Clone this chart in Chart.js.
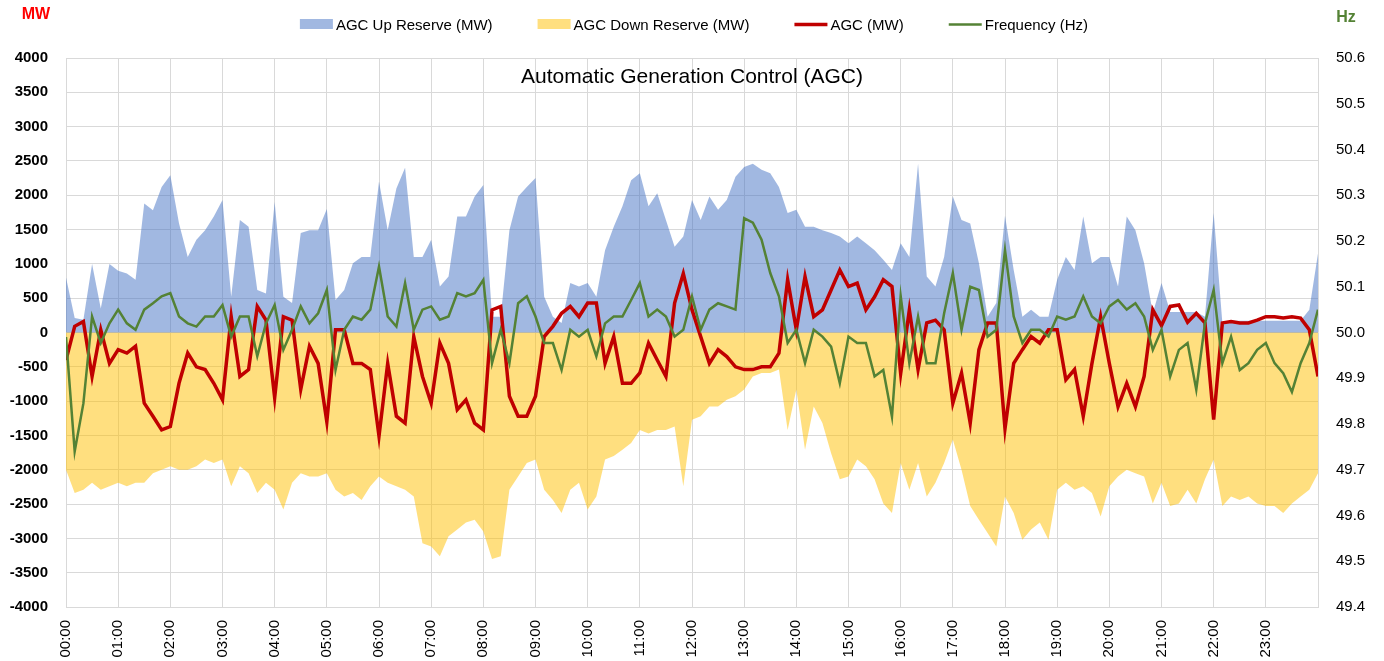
<!DOCTYPE html>
<html>
<head>
<meta charset="utf-8">
<script src="https://cdn.jsdelivr.net/npm/chart.js@4"></script>
<style>
  html, body { margin: 0; padding: 0; background: #fff; }
  #wrap { width: 1384px; height: 661px; position: relative; }
</style>
</head>
<body>
<div id="wrap"><canvas id="agcChart"></canvas></div>
<script>
// 10-minute samples, 00:00 .. 24:00 (one row per hour)
const upReserve = [
  800, 210, 185, 1000, 350, 1000,
  900, 860, 770, 1880, 1780, 2120,
  2290, 1590, 1100, 1350, 1490, 1690,
  1930, 520, 1640, 1540, 620, 570,
  1900, 520, 430, 1450, 1490, 1490,
  1800, 475, 620, 1010, 1100, 1100,
  2200, 1490, 2100, 2400, 1100, 1100,
  1350, 670, 815, 1690, 1690, 1980,
  2150, 230, 230, 1490, 1980, 2120,
  2250, 520, 230, 140, 720, 670,
  720, 520, 1200, 1540, 1840, 2220,
  2320, 1840, 2030, 1640, 1250, 1400,
  1930, 1640, 1980, 1790, 1930, 2270,
  2410, 2460, 2370, 2320, 2120, 1740,
  1790, 1540, 1540, 1490, 1450, 1400,
  1300, 1400, 1300, 1200, 1060, 910,
  1300, 1100, 2460, 815, 670, 1100,
  1980, 1640, 1590, 1010, 230, 430,
  1700, 910, 230, 330, 230, 230,
  770, 1100, 910, 1690, 1010, 1100,
  1100, 670, 1690, 1490, 1010, 280,
  720, 300, 300, 300, 300, 230,
  1740, 140, 170, 170, 170, 170,
  170, 170, 170, 170, 170, 330,
  1150
];

const downReserve = [
  -2000, -2340, -2290, -2190, -2290, -2240,
  -2190, -2240, -2190, -2190, -2050, -2000,
  -1950, -2000, -2000, -1950, -1850, -1900,
  -1850, -2240, -1950, -2050, -2340, -2190,
  -2290, -2580, -2190, -2050, -2100, -2100,
  -2050, -2290, -2390, -2340, -2440, -2240,
  -2100, -2190, -2240, -2290, -2390, -3070,
  -3120, -3260, -2970, -2870, -2770, -2730,
  -2900, -3300, -3260, -2290, -2100, -1900,
  -1850, -2290, -2440, -2630, -2290, -2190,
  -2580, -2390, -1850, -1800, -1710, -1610,
  -1420, -1470, -1420, -1420, -1370, -2240,
  -1270, -1220, -1080, -1080, -980, -930,
  -830, -640, -590, -590, -540, -1420,
  -830, -1710, -1080, -1320, -1760, -2140,
  -2100, -1850, -1950, -2140, -2490, -2630,
  -1900, -2290, -1900, -2390, -2190, -1900,
  -1560, -2000, -2530, -2730, -2920, -3120,
  -2390, -2630, -3020, -2870, -2770, -3020,
  -2290, -2190, -2290, -2240, -2340, -2680,
  -2240, -2100, -2000, -2050, -2100, -2490,
  -2190, -2530, -2490, -2290, -2490, -2140,
  -1850, -2530, -2390, -2440, -2390, -2490,
  -2530, -2530, -2630, -2490, -2390, -2290,
  -2050
];

const agc = [
  -400, 90, 160, -640, 40, -450,
  -250, -300, -200, -1030, -1220, -1420,
  -1370, -740, -300, -500, -540, -740,
  -980, 230, -640, -540, 380, 180,
  -950, 230, 180, -830, -200, -450,
  -1300, 40, 40, -450, -450, -540,
  -1510, -450, -1220, -1320, -60, -640,
  -1030, -155, -450, -1125, -980, -1320,
  -1420, 330, 380, -930, -1220, -1220,
  -930, -60, 90, 280, 380, 230,
  430, 430, -450, -60, -740, -740,
  -590, -155, -400, -640, 430, 860,
  330, -60, -450, -250, -350, -500,
  -540, -540, -500, -500, -300, 770,
  40, 815, 230, 330, 620, 910,
  670, 720, 330, 520, 770, 670,
  -600, 330, -540, 140, 180, 40,
  -1030, -590, -1320, -250, 140, 140,
  -1400, -450, -250, -60, -155, 40,
  40, -690, -540, -1220, -450, 230,
  -450, -1080, -740, -1080, -640, 330,
  100, 380, 400, 150, 280, 140,
  -1270, 140, 160, 140, 140, 180,
  230, 230, 210, 230, 210, 40,
  -640
];

const frequency = [
  49.99, 49.74, 49.845, 50.035, 49.977, 50.02,
  50.05, 50.02, 50.006, 50.05, 50.064, 50.079,
  50.086, 50.035, 50.02, 50.013, 50.035, 50.035,
  50.06, 49.991, 50.035, 50.035, 49.948, 50.02,
  50.06, 49.962, 50.006, 50.057, 50.02, 50.042,
  50.093, 49.918, 50.006, 50.035, 50.028, 50.05,
  50.144, 50.035, 50.013, 50.108, 50.006, 50.05,
  50.057, 50.028, 50.035, 50.086, 50.079, 50.086,
  50.115, 49.933, 50.006, 49.933, 50.064, 50.079,
  50.035, 49.977, 49.977, 49.918, 50.006, 49.991,
  50.006, 49.948, 50.02, 50.035, 50.035, 50.071,
  50.108, 50.035, 50.05, 50.035, 49.991, 50.006,
  50.079, 50.006, 50.05, 50.064, 50.057, 50.05,
  50.25, 50.24, 50.203, 50.13, 50.079, 49.977,
  50.006, 49.933, 50.006, 49.991, 49.969, 49.889,
  49.991, 49.977, 49.977, 49.904, 49.918, 49.816,
  50.08, 49.933, 50.035, 49.933, 49.933, 50.042,
  50.13, 50.006, 50.1, 50.093, 49.991, 50.006,
  50.18, 50.035, 49.977, 50.006, 50.006, 49.991,
  50.035, 50.028, 50.035, 50.079, 50.035, 50.02,
  50.057, 50.071, 50.05, 50.064, 50.035, 49.962,
  50.006, 49.904, 49.962, 49.977, 49.875, 50.02,
  50.093, 49.933, 49.991, 49.918, 49.933, 49.962,
  49.977, 49.933, 49.911, 49.87, 49.933, 49.977,
  50.05
];

const minutes = upReserve.map((_, i) => i * 10);

const TITLE = 'Automatic Generation Control (AGC)';
const FONT = '"Liberation Sans", Arial, sans-serif';
const GRID = '#d9d9d9';

const legendItems = [
  { label: 'AGC Up Reserve (MW)',   kind: 'box',  color: 'rgba(68,114,196,0.5)' },
  { label: 'AGC Down Reserve (MW)', kind: 'box',  color: 'rgba(255,192,0,0.5)' },
  { label: 'AGC (MW)',              kind: 'line', color: '#c00000', width: 3.5 },
  { label: 'Frequency (Hz)',        kind: 'line', color: '#548235', width: 2.5 },
];

const pts = arr => arr.map((v, i) => ({ x: minutes[i], y: v }));
const hhmm = m => String(Math.floor(m / 60)).padStart(2, '0') + ':' + String(m % 60).padStart(2, '0');

// title, custom legend and axis unit labels
const overlay = {
  id: 'overlay',
  afterDraw(chart) {
    const { ctx, chartArea } = chart;
    ctx.save();

    ctx.fillStyle = '#000';
    ctx.font = '21px ' + FONT;
    ctx.textAlign = 'center';
    ctx.textBaseline = 'alphabetic';
    ctx.fillText(TITLE, (chartArea.left + chartArea.right) / 2, 83);

    ctx.font = 'bold 16px ' + FONT;
    ctx.fillStyle = '#ff0000';
    ctx.fillText('MW', 36, 19);
    ctx.fillStyle = '#548235';
    ctx.fillText('Hz', 1346, 22);

    // legend
    ctx.font = '15px ' + FONT;
    ctx.textAlign = 'left';
    const boxW = 33, gap = 3, itemGap = 45;
    const widths = legendItems.map(it => boxW + gap + ctx.measureText(it.label).width);
    const total = widths.reduce((s, w) => s + w, 0) + itemGap * (legendItems.length - 1);
    let x = 694 - total / 2;
    legendItems.forEach((it, i) => {
      if (it.kind === 'box') {
        ctx.fillStyle = it.color;
        ctx.fillRect(x, 19, boxW, 10);
      } else {
        ctx.strokeStyle = it.color;
        ctx.lineWidth = it.width;
        ctx.beginPath();
        ctx.moveTo(x, 24.5);
        ctx.lineTo(x + boxW, 24.5);
        ctx.stroke();
      }
      ctx.fillStyle = '#000';
      ctx.fillText(it.label, x + boxW + gap, 30);
      x += widths[i] + itemGap;
    });

    ctx.restore();
  }
};

new Chart(document.getElementById('agcChart'), {
  type: 'line',
  data: {
    datasets: [
      {
        label: 'Frequency (Hz)', data: pts(frequency), yAxisID: 'y1',
        borderColor: '#548235', borderWidth: 2.5, pointRadius: 0, tension: 0, fill: false, order: 0,
      },
      {
        label: 'AGC (MW)', data: pts(agc), yAxisID: 'y',
        borderColor: '#c00000', borderWidth: 3.5, pointRadius: 0, tension: 0, fill: false, order: 1,
      },
      {
        label: 'AGC Up Reserve (MW)', data: pts(upReserve), yAxisID: 'y',
        backgroundColor: 'rgba(68,114,196,0.5)', borderColor: 'transparent', borderWidth: 1,
        pointRadius: 0, tension: 0, fill: 'origin', order: 2,
      },
      {
        label: 'AGC Down Reserve (MW)', data: pts(downReserve), yAxisID: 'y',
        backgroundColor: 'rgba(255,192,0,0.5)', borderColor: 'transparent', borderWidth: 1,
        pointRadius: 0, tension: 0, fill: 'origin', order: 3,
      },
    ]
  },
  options: {
    responsive: true, maintainAspectRatio: false, animation: false,
    layout: { padding: { top: 58, left: 0, right: 0, bottom: 0 } },
    plugins: {
      legend: { display: false },
      title: { display: false },
      tooltip: { enabled: false }
    },
    scales: {
      x: {
        type: 'linear', min: 0, max: 1440,
        afterFit: s => { s.height = 54; },
        ticks: {
          stepSize: 60, autoSkip: false, minRotation: 90, maxRotation: 90, padding: 13,
          color: '#000', font: { family: FONT, size: 15 },
          callback: v => v >= 1440 ? '' : hhmm(v)
        },
        grid: { color: GRID, lineWidth: 1, drawTicks: false },
        border: { color: GRID }
      },
      y: {
        position: 'left', min: -4000, max: 4000,
        afterFit: s => { s.width = 66; },
        ticks: {
          stepSize: 500, padding: 18, color: '#000', font: { family: FONT, size: 15, weight: 'bold' },
          callback: v => String(v)
        },
        grid: { color: GRID, lineWidth: 1, drawTicks: false },
        border: { color: GRID }
      },
      y1: {
        position: 'right', min: 49.4, max: 50.6,
        afterFit: s => { s.width = 66; },
        ticks: {
          stepSize: 0.1, padding: 18, color: '#000', font: { family: FONT, size: 15 },
          callback: v => v.toFixed(1)
        },
        grid: { display: false, drawTicks: false },
        border: { display: false }
      }
    }
  },
  plugins: [overlay]
});
</script>
</body>
</html>
